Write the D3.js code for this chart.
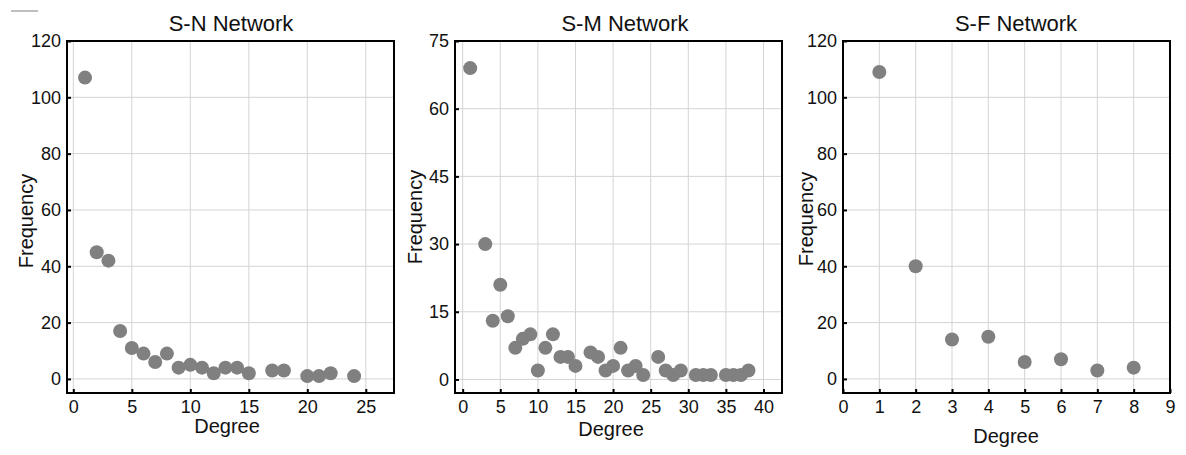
<!DOCTYPE html>
<html>
<head>
<meta charset="utf-8">
<script src="https://cdn.jsdelivr.net/npm/d3@7"></script>
<style>
  body { margin: 0; background: #fff; }
  svg { display: block; font-family: "Liberation Sans", Arial, sans-serif; }
</style>
</head>
<body>
<svg width="1186" height="455"></svg>
<script>
// degree distributions
var snDegree = [1, 2, 3, 4, 5, 6, 7, 8, 9, 10, 11, 12, 13, 14, 15, 17, 18, 20, 21, 22, 24];
var snFreq   = [107, 45, 42, 17, 11, 9, 6, 9, 4, 5, 4, 2, 4, 4, 2, 3, 3, 1, 1, 2, 1];

var smDegree = [1, 3, 4, 5, 6, 7, 8, 9, 10, 11, 12, 13, 14, 15, 17, 18, 19, 20, 21, 22, 23, 24,
  26, 27, 28, 29, 31, 32, 33, 35, 36, 37, 38];
var smFreq   = [69, 30, 13, 21, 14, 7, 9, 10, 2, 7, 10, 5, 5, 3, 6, 5, 2, 3, 7, 2, 3, 1,
  5, 2, 1, 2, 1, 1, 1, 1, 1, 1, 2];

var sfDegree = [1, 2, 3, 4, 5, 6, 7, 8];
var sfFreq   = [109, 40, 14, 15, 6, 7, 3, 4];

var snXTicks = [0, 5, 10, 15, 20, 25];
var snYTicks = [0, 20, 40, 60, 80, 100, 120];
var smXTicks = [0, 5, 10, 15, 20, 25, 30, 35, 40];
var smYTicks = [0, 15, 30, 45, 60, 75];
var sfXTicks = [0, 1, 2, 3, 4, 5, 6, 7, 8, 9];
var sfYTicks = [0, 20, 40, 60, 80, 100, 120];

var svg = d3.select("svg");

var panels = [
  { title: "S-N Network", x: snDegree, y: snFreq, xt: snXTicks, yt: snYTicks,
    left: 67, right: 394, xd: [-0.54, 27.41], yd: [-5, 120],
    titleX: 231, degX: 227, degY: 433, freqX: 33, freqY: 221 },
  { title: "S-M Network", x: smDegree, y: smFreq, xt: smXTicks, yt: smYTicks,
    left: 455, right: 782, xd: [-1.02, 42.46], yd: [-3, 75],
    titleX: 625, degX: 611, degY: 436, freqX: 422, freqY: 217 },
  { title: "S-F Network", x: sfDegree, y: sfFreq, xt: sfXTicks, yt: sfYTicks,
    left: 843, right: 1170, xd: [0, 9], yd: [-5, 120],
    titleX: 1016, degX: 1006, degY: 443, freqX: 813, freqY: 219 }
];

var plotTop = 41, plotBottom = 393;

panels.forEach(function(p) {
  var x = d3.scaleLinear().domain(p.xd).range([p.left, p.right]);
  var y = d3.scaleLinear().domain(p.yd).range([plotBottom, plotTop]);
  var g = svg.append("g");

  // grid
  g.append("g").selectAll("line")
    .data(p.xt)
    .enter().append("line")
    .attr("x1", function(d) { return x(d); })
    .attr("x2", function(d) { return x(d); })
    .attr("y1", plotTop)
    .attr("y2", plotBottom)
    .style("stroke", "#d4d4d4")
    .style("stroke-width", 1);

  g.append("g").selectAll("line")
    .data(p.yt)
    .enter().append("line")
    .attr("x1", p.left)
    .attr("x2", p.right)
    .attr("y1", function(d) { return y(d); })
    .attr("y2", function(d) { return y(d); })
    .style("stroke", "#d4d4d4")
    .style("stroke-width", 1);

  // points
  g.append("g").selectAll("circle")
    .data(p.x.map(function(d, i) { return [d, p.y[i]]; }))
    .enter().append("circle")
    .attr("cx", function(d) { return x(d[0]); })
    .attr("cy", function(d) { return y(d[1]); })
    .attr("r", 7)
    .style("fill", "#808080");

  // axes, ticks pointing inward
  var xAxis = g.append("g")
    .attr("transform", "translate(0," + plotBottom + ")")
    .call(d3.axisBottom(x).tickValues(p.xt).tickSize(-4).tickPadding(7).tickFormat(d3.format("d")));
  var yAxis = g.append("g")
    .attr("transform", "translate(" + p.left + ",0)")
    .call(d3.axisLeft(y).tickValues(p.yt).tickSize(-4).tickPadding(6).tickFormat(d3.format("d")));

  [xAxis, yAxis].forEach(function(a) {
    a.select(".domain").remove();
    a.selectAll(".tick line").style("stroke", "#000").style("stroke-width", 2);
    a.selectAll("text").style("font-size", "18px").style("fill", "#111")
      .style("font-family", "Liberation Sans, Arial, sans-serif");
  });

  // frame
  g.append("rect")
    .attr("x", p.left)
    .attr("y", plotTop)
    .attr("width", p.right - p.left)
    .attr("height", plotBottom - plotTop)
    .style("fill", "none")
    .style("stroke", "#000")
    .style("stroke-width", 2);

  g.append("text")
    .attr("x", p.titleX)
    .attr("y", 31)
    .attr("text-anchor", "middle")
    .style("font-size", "22px")
    .style("fill", "#111")
    .text(p.title);

  g.append("text")
    .attr("x", p.degX)
    .attr("y", p.degY)
    .attr("text-anchor", "middle")
    .style("font-size", "20px")
    .style("fill", "#111")
    .text("Degree");

  g.append("text")
    .attr("transform", "translate(" + p.freqX + "," + p.freqY + ") rotate(-90)")
    .attr("text-anchor", "middle")
    .style("font-size", "20px")
    .style("fill", "#111")
    .text("Frequency");
});

// small stray mark in the top-left corner of the original
svg.append("line")
  .attr("x1", 11).attr("x2", 38)
  .attr("y1", 11).attr("y2", 11)
  .style("stroke", "#aaa")
  .style("stroke-width", 1.5);
</script>
</body>
</html>
